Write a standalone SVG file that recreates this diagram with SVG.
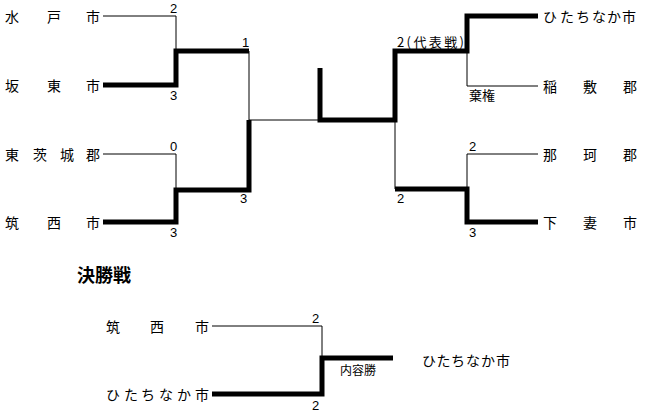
<svg xmlns="http://www.w3.org/2000/svg" width="650" height="412" viewBox="0 0 650 412">
<style>
.bg{fill:#fff}
.thin{fill:none;stroke:#000;stroke-width:1}
.thick{fill:none;stroke:#000;stroke-width:5;stroke-linejoin:miter;stroke-linecap:butt}
.name{font-family:"Noto Sans CJK JP","Noto Sans",sans-serif;font-size:14px;fill:#000}
.num{font-family:"Liberation Sans","Noto Sans CJK JP",sans-serif;font-size:13px;fill:#000}
.lbl{font-family:"Noto Sans CJK JP",sans-serif;font-size:13px;fill:#000}
.small{font-family:"Noto Sans CJK JP",sans-serif;font-size:12px;fill:#000}
.title{font-family:"Noto Sans CJK JP",sans-serif;font-size:18px;font-weight:bold;fill:#000}
</style>
<rect class="bg" x="0" y="0" width="650" height="412"/>
<g id="connectors">
<polyline class="thin" points="103,16 176,16 176,51"/>
<polyline class="thick" points="103,85 176,85 176,51 249,51"/>
<polyline class="thin" points="249,51 249,120 320,120"/>
<polyline class="thin" points="103,154 176,154 176,190"/>
<polyline class="thick" points="103,222 176,222 176,190 249,190 249,120"/>
<polyline class="thick" points="320,68 320,120 395,120 395,51 467,51 467,16 538,16"/>
<polyline class="thin" points="467,51 467,86 538,86"/>
<polyline class="thin" points="395,120 395,189"/>
<polyline class="thick" points="395,189 467,189 467,222 538,222"/>
<polyline class="thin" points="538,154 467,154 467,189"/>
<polyline class="thin" points="212,326 322,326 322,358"/>
<polyline class="thick" points="212,394 322,394 322,358 393,358"/>
</g>
<g id="n-mito"><text class="name" x="5 47 86" y="22">水戸市</text></g>
<g id="n-bando"><text class="name" x="5 47 86" y="91">坂東市</text></g>
<g id="n-higashiibaraki"><text class="name" x="5 33 60 86" y="160">東茨城郡</text></g>
<g id="n-chikusei"><text class="name" x="5 47 86" y="228">筑西市</text></g>
<g id="n-hitachinaka"><text class="name" x="543 560 576 592 607 622" y="22">ひたちなか市</text></g>
<g id="n-inashiki"><text class="name" x="543 583 623" y="92">稲敷郡</text></g>
<g id="n-naka"><text class="name" x="543 583 623" y="160">那珂郡</text></g>
<g id="n-shimotsuma"><text class="name" x="543 583 623" y="228">下妻市</text></g>
<g id="scores">
<text class="num" x="170" y="13">2</text>
<text class="num" x="242" y="47">1</text>
<text class="num" x="170" y="100">3</text>
<text class="num" x="170" y="151">0</text>
<text class="num" x="240" y="203">3</text>
<text class="num" x="170" y="237">3</text>
<text class="lbl" x="397" y="47" letter-spacing="2.4">2(代表戦)</text>
<text class="lbl" x="469" y="100">棄権</text>
<text class="num" x="469" y="151">2</text>
<text class="num" x="397" y="203">2</text>
<text class="num" x="469" y="237">3</text>
</g>
<g id="final-title"><text class="title" x="77" y="282">決勝戦</text></g>
<g id="f-chikusei"><text class="name" x="106 150 195" y="332">筑西市</text></g>
<g id="f-hitachinaka"><text class="name" x="106 124 141 159 177 195" y="400">ひたちなか市</text></g>
<g id="f-winner"><text class="name" x="422 436.5 451 466 481 496" y="366">ひたちなか市</text></g>
<g id="final-scores">
<text class="num" x="312" y="323">2</text>
<text class="num" x="312" y="410">2</text>
<text class="small" x="340" y="375">内容勝</text>
</g>
</svg>
